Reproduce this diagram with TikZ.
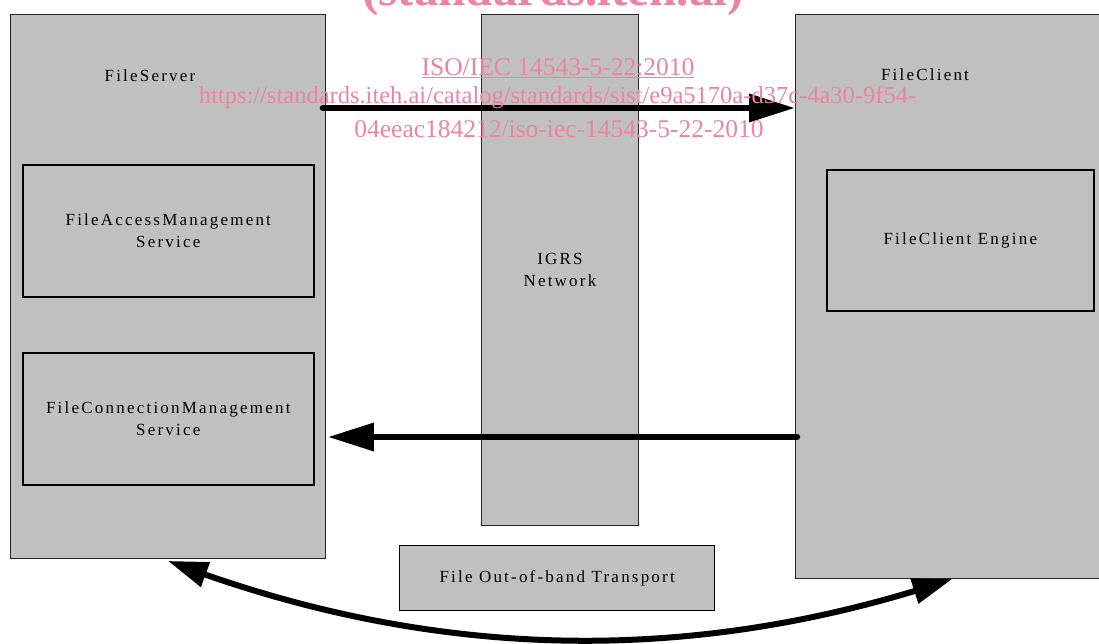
\documentclass[tikz,border=0pt]{standalone}
\usepackage{fontspec}
\setmainfont{Liberation Serif}
\newfontfamily\spaced[LetterSpace=13]{Liberation Serif}
\usetikzlibrary{arrows.meta,bending}
\definecolor{boxgray}{RGB}{192,192,192}
\definecolor{wm}{RGB}{234,132,162}
\begin{document}
\begin{tikzpicture}[x=1pt,y=-1pt,
  outerbox/.style={draw=black!85,line width=0.9pt,fill=boxgray,rectangle,inner sep=0pt,anchor=north west},
  innerbox/.style={draw=black,line width=1.6pt,fill=boxgray,rectangle,inner sep=0pt,anchor=north west,align=center,font=\lbl},
  lbltext/.style={inner sep=0pt,align=center,font=\lbl},
  bigarrow/.style={line width=6.5pt,line cap=round,-{Triangle[length=46pt,width=27pt]}},
  curvearrow/.style={line width=6pt,{Triangle[length=40pt,width=25pt]}-{Triangle[length=40pt,width=25pt]}},
  wmark/.style={text=wm,inner sep=0pt,anchor=base}
]
\newcommand\lbl{\spaced\fontsize{17}{22}\selectfont}
\useasboundingbox (0,0) rectangle (1099,643);
% main boxes
\node[outerbox,minimum width=315pt,minimum height=544pt] (fileserver) at (10,14) {};
\node[outerbox,minimum width=314pt,minimum height=564pt] (fileclient) at (795,14) {};
\node[outerbox,minimum width=157pt,minimum height=511pt,align=center,font=\lbl] (igrs) at (481,14) {IGRS\\Network};
\node[lbltext] (fslabel) at (150,75.5) {FileServer};
\node[lbltext] (fclabel) at (925,74.5) {FileClient};
% inner boxes
\node[innerbox,minimum width=291pt,minimum height=132pt] (fams) at (22,164) {FileAccessManagement\\Service};
\node[innerbox,minimum width=291pt,minimum height=132pt] (fcms) at (22,352) {FileConnectionManagement\\Service};
\node[innerbox,minimum width=267pt,minimum height=141pt] (fce) at (826,169) {FileClient Engine};
\node[innerbox,line width=1.3pt,minimum width=315pt,minimum height=65pt] (foob) at (399,545) {File Out-of-band Transport};
% connectors
\draw[bigarrow] ([xshift=-3pt,yshift=-94pt]fileserver.north east) -- ([yshift=-94pt]fileclient.north west);
\draw[bigarrow] ([xshift=2pt,yshift=-423pt]fileclient.north west) -- ([xshift=2pt,yshift=-423pt]fileserver.north east);
\draw[curvearrow] ([yshift=-2pt]fileserver.south) .. controls (429,661) and (691,667) .. (fileclient.south);
% watermark
\node[wmark,font=\fontsize{49}{55}\selectfont\bfseries] (wmtitle) at (553,5) {(standards.iteh.ai)};
\node[wmark,font=\fontsize{25.5}{30}\selectfont] (wmiso) at (558,75) {\underline{ISO/IEC 14543-5-22:2010}};
\node[wmark,font=\fontsize{24.5}{30}\selectfont] (wmurl) at (557.5,103) {https://standards.iteh.ai/catalog/standards/sist/e9a5170a-d37c-4a30-9f54-};
\node[wmark,font=\fontsize{25.5}{30}\selectfont] (wmurlb) at (559,137) {04eeac184212/iso-iec-14543-5-22-2010};
\end{tikzpicture}
\end{document}
